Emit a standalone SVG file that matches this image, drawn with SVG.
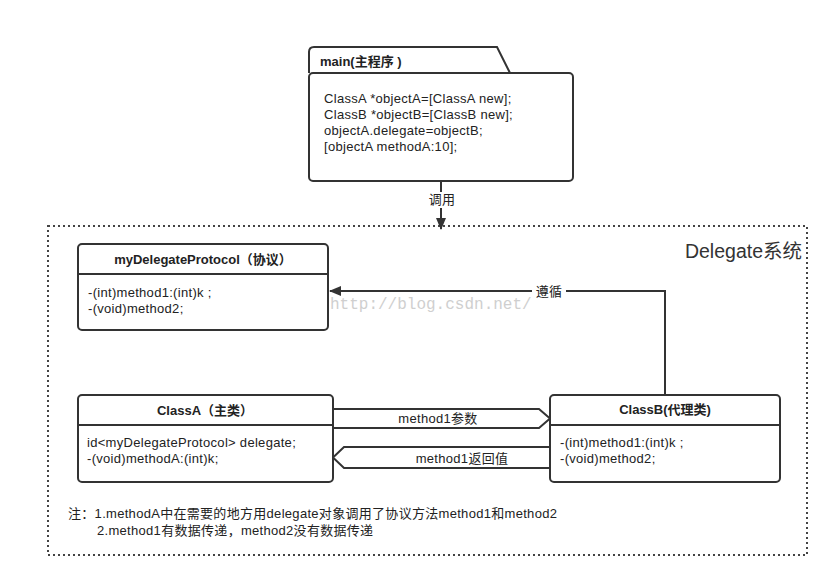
<svg xmlns="http://www.w3.org/2000/svg" width="840" height="588" viewBox="0 0 840 588">
<defs>
<style>
.box{fill:#fff;stroke:#333;stroke-width:2}
.ln{fill:none;stroke:#333;stroke-width:2}
.t{font-family:"Liberation Sans","Noto Sans CJK SC",sans-serif;font-size:13px;letter-spacing:0.3px;fill:#222}
.b{font-weight:bold;text-anchor:middle;letter-spacing:0}
.lab{font-family:"Liberation Sans","Noto Sans CJK SC",sans-serif;font-size:13px;letter-spacing:0.3px;fill:#222;text-anchor:middle}
</style>
<marker id="ah" viewBox="0 0 12 10" refX="11" refY="5" markerWidth="12" markerHeight="10" markerUnits="userSpaceOnUse" orient="auto">
<path d="M0,0 L12,5 L0,10 Z" fill="#333"/>
</marker>
</defs>
<rect width="840" height="588" fill="#fff"/>

<g id="frame">
<rect x="48" y="226" width="759" height="329" fill="none" stroke="#444" stroke-width="2" stroke-dasharray="2,3"/>
<text x="802" y="258" style="font-family:'Liberation Sans','Noto Sans CJK SC',sans-serif;font-size:19.5px;fill:#333;text-anchor:end">Delegate系统</text>
</g>

<text x="330" y="309" style="font-family:'Liberation Mono',monospace;font-size:16px;fill:#cfcfcf">http://blog.csdn.net/</text>

<g id="connectors">
<line x1="441" y1="181" x2="441" y2="229" class="ln" marker-end="url(#ah)"/>
<rect x="427" y="192" width="30" height="16" fill="#fff"/>
<text x="442" y="204" class="lab">调用</text>
<polyline points="665,394 665,291 330,291" class="ln" marker-end="url(#ah)"/>
<rect x="532" y="283" width="34" height="16" fill="#fff"/>
<text x="549" y="296" class="lab">遵循</text>
<polygon points="333,409 539,409 550,418.5 539,428 333,428" class="box"/>
<text x="438" y="423" class="lab">method1参数</text>
<polygon points="550,447 344,447 333,457.5 344,468 550,468" class="box"/>
<text x="462" y="463" class="lab">method1返回值</text>
</g>

<g id="main">
<path d="M309,73 L309,52 Q309,47 314,47 L497,47 L510,73" class="ln"/>
<rect x="309" y="73" width="264" height="108" rx="4" class="box"/>
<text x="320" y="66" class="t" style="font-weight:bold;letter-spacing:0">main(主程序 )</text>
<text x="324" y="103" class="t">ClassA *objectA=[ClassA new];</text>
<text x="324" y="119" class="t">ClassB *objectB=[ClassB new];</text>
<text x="324" y="135" class="t">objectA.delegate=objectB;</text>
<text x="324" y="151" class="t">[objectA methodA:10];</text>
</g>

<g id="protocol">
<rect x="78" y="244" width="250" height="86" rx="4" class="box"/>
<line x1="78" y1="274" x2="328" y2="274" class="ln"/>
<text x="203" y="264" class="t b">myDelegateProtocol（协议）</text>
<text x="88" y="297" class="t">-(int)method1:(int)k ;</text>
<text x="88" y="313" class="t">-(void)method2;</text>
</g>

<g id="classA">
<rect x="78" y="395" width="255" height="87" rx="4" class="box"/>
<line x1="78" y1="425" x2="333" y2="425" class="ln"/>
<text x="205" y="415" class="t b">ClassA（主类）</text>
<text x="87" y="447" class="t">id&lt;myDelegateProtocol&gt; delegate;</text>
<text x="87" y="463" class="t">-(void)methodA:(int)k;</text>
</g>

<g id="classB">
<rect x="550" y="395" width="230" height="87" rx="4" class="box"/>
<line x1="550" y1="425" x2="780" y2="425" class="ln"/>
<text x="665" y="414" class="t b">ClassB(代理类)</text>
<text x="560" y="447" class="t">-(int)method1:(int)k ;</text>
<text x="560" y="463" class="t">-(void)method2;</text>
</g>

<g id="note">
<text x="68" y="518" class="t">注：1.methodA中在需要的地方用delegate对象调用了协议方法method1和method2</text>
<text x="97" y="535" class="t">2.method1有数据传递，method2没有数据传递</text>
</g>
</svg>
